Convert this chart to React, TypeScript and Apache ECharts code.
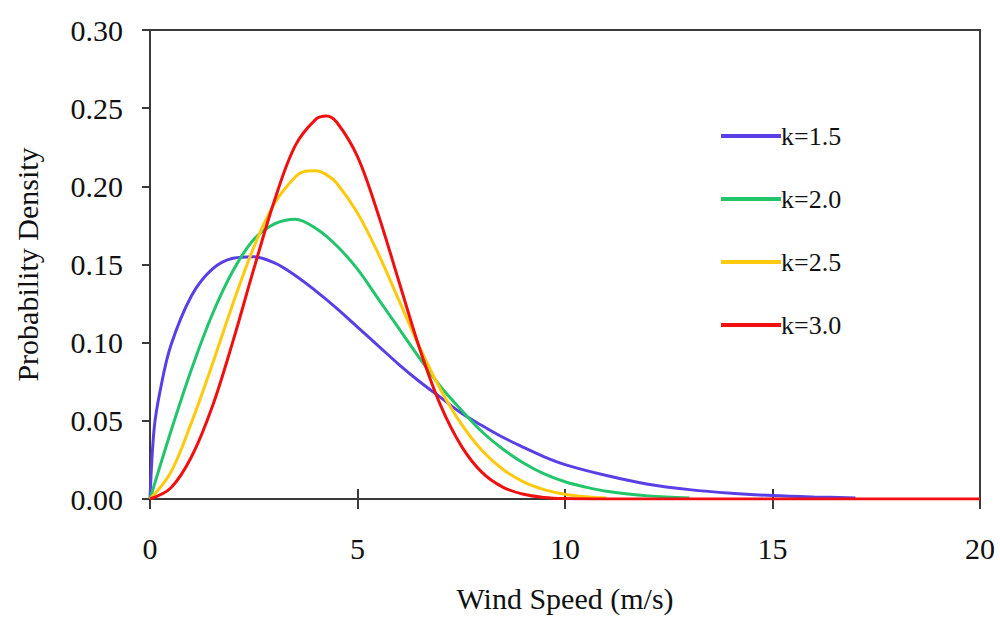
import React, { useEffect, useRef } from "react";
import * as echarts from "echarts";

const seriesNames = ["k=1.5", "k=2.0", "k=2.5", "k=3.0"];
const seriesColors = ["#5b3fe6", "#22c46c", "#ffc90e", "#f01010"];

const xK15 = [0, 0.1, 0.25, 0.5, 1, 1.5, 2, 2.5, 3, 3.5, 4, 4.5, 5, 5.5, 6, 6.5, 7, 7.5, 8, 8.5, 9, 9.5, 10, 11, 12, 13, 14, 15, 16, 17];
const yK15 = [0, 0.045, 0.07, 0.098, 0.13, 0.147, 0.154, 0.155, 0.151, 0.143, 0.133, 0.122, 0.11, 0.098, 0.086, 0.075, 0.065, 0.055, 0.047, 0.0395, 0.033, 0.027, 0.022, 0.015, 0.0095, 0.006, 0.0037, 0.0022, 0.0013, 0.0007];

const xK20 = [0, 0.5, 1, 1.5, 2, 2.5, 3, 3.5, 4, 4.5, 5, 5.5, 6, 6.5, 7, 7.5, 8, 8.5, 9, 9.5, 10, 10.5, 11, 12, 13];
const yK20 = [0, 0.043, 0.083, 0.118, 0.146, 0.166, 0.176, 0.179, 0.173, 0.162, 0.147, 0.128, 0.109, 0.09, 0.072, 0.057, 0.043, 0.032, 0.023, 0.016, 0.011, 0.0076, 0.005, 0.002, 0.0007];

const xK25 = [0, 0.5, 1, 1.5, 2, 2.5, 3, 3.5, 3.75, 4, 4.25, 4.5, 5, 5.5, 6, 6.5, 7, 7.5, 8, 8.5, 9, 9.5, 10, 10.5, 11];
const yK25 = [0, 0.017, 0.049, 0.086, 0.125, 0.161, 0.189, 0.206, 0.2097, 0.21, 0.2075, 0.202, 0.183, 0.157, 0.127, 0.097, 0.07, 0.048, 0.031, 0.019, 0.011, 0.006, 0.003, 0.0014, 0.0006];

const xK30 = [0, 0.5, 1, 1.5, 2, 2.5, 3, 3.5, 4, 4.25, 4.5, 5, 5.5, 6, 6.5, 7, 7.5, 8, 8.5, 9, 9.5, 10, 11, 12, 13, 14, 15, 16, 17, 18, 19, 20];
const yK30 = [0, 0.007, 0.027, 0.059, 0.101, 0.147, 0.191, 0.226, 0.243, 0.245, 0.241, 0.219, 0.182, 0.139, 0.096, 0.06, 0.034, 0.017, 0.0076, 0.003, 0.001, 0.0003, 0, 0, 0, 0, 0, 0, 0, 0, 0, 0];

const xTicks = [0, 5, 10, 15, 20];
const yTicks = [0, 0.05, 0.1, 0.15, 0.2, 0.25, 0.3];

const allX = [xK15, xK20, xK25, xK30];
const allY = [yK15, yK20, yK25, yK30];

const FONT = "'Liberation Serif', 'DejaVu Serif', serif";
const AXIS_COLOR = "#3a3a3a";

export default function App() {
  const ref = useRef<HTMLDivElement>(null);
  useEffect(() => {
    if (!ref.current) return;
    const chart = echarts.init(ref.current, undefined, { renderer: "svg" });
    const series = seriesNames.map((name, i) => ({
      name,
      type: "line",
      xAxisIndex: 0,
      yAxisIndex: 0,
      data: allX[i].map((x, j) => [x, allY[i][j]]),
      smooth: 0.35,
      showSymbol: false,
      symbol: "none",
      lineStyle: { color: seriesColors[i], width: 3 },
      itemStyle: { color: seriesColors[i] },
    }));
    chart.setOption({
      animation: false,
      backgroundColor: "#fff",
      grid: {
        left: 150,
        right: 20,
        top: 30,
        bottom: 118,
        show: true,
        borderColor: AXIS_COLOR,
        borderWidth: 2,
      },
      legend: {
        orient: "vertical",
        left: 716,
        top: 118,
        itemWidth: 60,
        itemHeight: 4,
        itemGap: 37,
        icon: "rect",
        data: seriesNames.map((n, i) => ({
          name: n,
          itemStyle: { color: seriesColors[i] },
        })),
        textStyle: { fontFamily: FONT, fontSize: 26, color: "#111", padding: [0, 0, 0, -5] },
      },
      xAxis: [
        {
          type: "value",
          min: 0,
          max: 20,
          interval: 5,
          name: "Wind Speed (m/s)",
          nameLocation: "middle",
          nameGap: 84,
          nameTextStyle: { fontFamily: FONT, fontSize: 30, color: "#111" },
          axisLine: { show: true, lineStyle: { color: AXIS_COLOR, width: 2 } },
          axisTick: { show: true, length: 10, lineStyle: { color: AXIS_COLOR, width: 2 } },
          axisLabel: { fontFamily: FONT, fontSize: 30, color: "#111", margin: 34, formatter: (v: number) => (xTicks.includes(v) ? String(v) : "") },
          splitLine: { show: false },
        },
        {
          type: "value",
          position: "bottom",
          min: 0,
          max: 20,
          interval: 5,
          axisLine: { show: false },
          axisTick: { show: true, inside: true, length: 10, lineStyle: { color: AXIS_COLOR, width: 2 } },
          axisLabel: { show: false },
          splitLine: { show: false },
        },
      ],
      yAxis: {
        type: "value",
        min: 0,
        max: 0.3,
        interval: 0.05,
        name: "Probability Density",
        nameLocation: "middle",
        nameGap: 108,
        nameTextStyle: { fontFamily: FONT, fontSize: 30, color: "#111" },
        axisLine: { show: true, lineStyle: { color: AXIS_COLOR, width: 2 } },
        axisTick: { show: true, length: 8, lineStyle: { color: AXIS_COLOR, width: 2 } },
        axisLabel: {
          fontFamily: FONT,
          fontSize: 30,
          color: "#111",
          margin: 27,
          formatter: (v: number) => (yTicks.some((t) => Math.abs(t - v) < 1e-9) ? v.toFixed(2) : ""),
        },
        splitLine: { show: false },
      },
      series,
    });
    return () => chart.dispose();
  }, []);
  return <div ref={ref} style={{ width: 1000, height: 618, position: "absolute", left: 0, top: 0 }} />;
}
